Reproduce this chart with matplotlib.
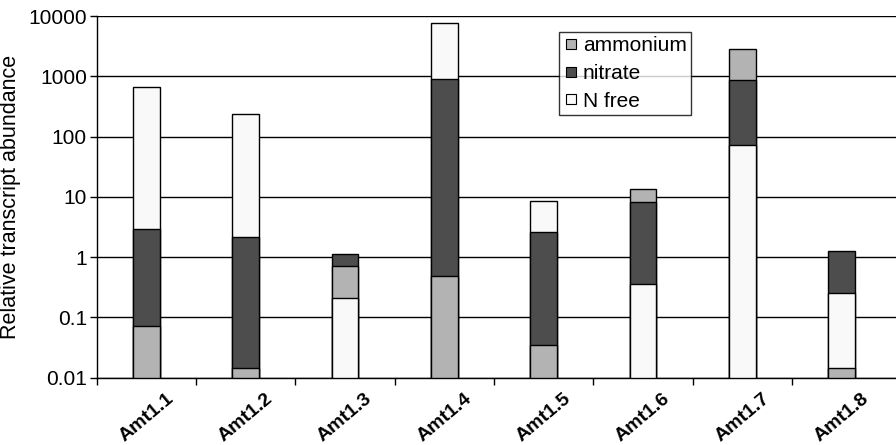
import matplotlib

matplotlib.use("Agg")
import matplotlib.pyplot as plt
from matplotlib.lines import Line2D
import numpy as np

plt.rcParams["font.family"] = ["Liberation Sans", "DejaVu Sans"]

genes = ["Amt1.1", "Amt1.2", "Amt1.3", "Amt1.4", "Amt1.5", "Amt1.6", "Amt1.7", "Amt1.8"]
ammonium = [0.072, 0.0147, 0.72, 0.48, 0.035, 13.3, 2860, 0.0147]
nitrate = [2.89, 2.13, 1.11, 889, 2.61, 8.2, 855, 1.26]
n_free = [655, 236, 0.212, 7710, 8.6, 0.354, 72, 0.257]

series = [
    ("ammonium", ammonium, "#b3b3b3"),
    ("nitrate", nitrate, "#4d4d4d"),
    ("N free", n_free, "#f9f9f9"),
]

fig = plt.figure(figsize=(8.96, 4.45), dpi=100)
ax = fig.add_axes([0.1079, 0.1512, 0.8921, 0.8128])

x = np.arange(len(genes))
width = 0.27
floor = 0.005

# overlapping bars: the tallest sits at the back, the shortest in front
for i in range(len(genes)):
    ranked = sorted(series, key=lambda s: s[1][i], reverse=True)
    for rank, (name, values, color) in enumerate(ranked):
        ax.bar(x[i], values[i] - floor, bottom=floor, width=width, color=color,
               edgecolor="black", linewidth=1.0, zorder=3 + rank)

ax.set_yscale("log")
ax.set_ylim(0.01, 10000)
ax.set_xlim(-0.5, 7.547)
ax.set_yticks([0.01, 0.1, 1, 10, 100, 1000, 10000])
ax.set_yticklabels(["0.01", "0.1", "1", "10", "100", "1000", "10000"])
ax.yaxis.set_minor_locator(matplotlib.ticker.NullLocator())
ax.grid(axis="y", color="black", linewidth=1.0, zorder=1)
ax.set_axisbelow(True)

# category boundaries carry the tick marks, centres carry the labels
ax.set_xticks(np.arange(len(genes)) - 0.5)
ax.set_xticklabels([])
ax.set_xticks(x, minor=True)
ax.set_xticklabels(genes, minor=True, rotation=40, ha="center", va="top",
                   fontweight="bold", fontsize=14)
ax.tick_params(axis="x", which="major", length=5, width=1, direction="out")
ax.tick_params(axis="x", which="minor", length=0, pad=9)
ax.tick_params(axis="y", length=5, width=1, pad=2, labelsize=15)

for side in ("right", "top"):
    ax.spines[side].set_visible(False)
for side in ("left", "bottom"):
    ax.spines[side].set_linewidth(1.0)
    ax.spines[side].set_zorder(10)

ax.set_ylabel("Relative transcript abundance", fontsize=15.5, labelpad=5)

handles = [
    Line2D([], [], marker="s", linestyle="none", markerfacecolor=color,
           markeredgecolor="black", markeredgewidth=0.8, markersize=6.5)
    for _, _, color in series
]
leg = ax.legend(handles, [s[0] for s in series], loc="upper left",
                bbox_to_anchor=((559 - 96.7) / 799.3, (377.7 - 32) / 361.7),
                fontsize=15, frameon=True, fancybox=False, borderpad=0.2,
                handletextpad=0.15, labelspacing=0.42, handlelength=0.8,
                borderaxespad=0)
leg.get_frame().set_edgecolor("black")
leg.get_frame().set_linewidth(1.0)
leg.set_zorder(20)

fig.savefig("out.png", dpi=100)
